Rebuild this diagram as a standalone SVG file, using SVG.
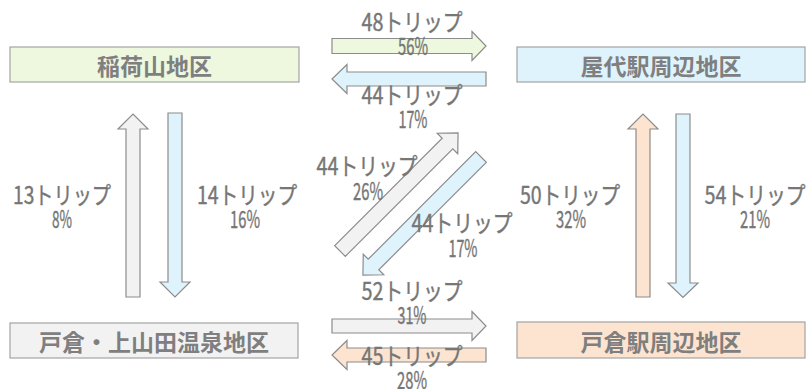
<svg xmlns="http://www.w3.org/2000/svg" width="806" height="389" viewBox="0 0 806 389">
<style>
.node{stroke:#a3a3a3;stroke-width:1.2}
.nl{font-family:"Noto Sans CJK JP","Noto Sans",sans-serif;font-size:23px;font-weight:bold;fill:#7f7f7f;text-anchor:middle}
.arr{stroke:#8c8c8c;stroke-width:1.2;stroke-linejoin:miter}
.t{font-family:"Noto Sans CJK JP","Noto Sans",sans-serif;font-size:24px;fill:#767676;stroke:#767676;stroke-width:0.4;text-anchor:middle}
.g{fill:#eef8df}.b{fill:#dff3fc}.k{fill:#f2f2f2}.p{fill:#fde4d0}
</style>
<g id="node-inariyama"><rect class="node g" x="10" y="47" width="289" height="35"/><text class="nl" x="154.5" y="75">稲荷山地区</text></g>
<g id="node-yashiro"><rect class="node b" x="517" y="47" width="288" height="35"/><text class="nl" x="661" y="75">屋代駅周辺地区</text></g>
<g id="node-togura-kamiyamada"><rect class="node k" x="10" y="323" width="288" height="35"/><text class="nl" x="154" y="351">戸倉・上山田温泉地区</text></g>
<g id="node-togura-eki"><rect class="node p" x="517" y="322" width="288" height="36"/><text class="nl" x="661" y="351">戸倉駅周辺地区</text></g>
<g id="connectors">
<path class="arr g" d="M332,38.5 H472 V31.5 L486,46 L472,60.5 V53.5 H332 Z"/>
<path class="arr b" d="M486,72 H347 V64.5 L332,79 L347,93.5 V86 H486 Z"/>
<path class="arr k" d="M332,319 H472 V311.5 L486,326 L472,340.5 V333 H332 Z"/>
<path class="arr p" d="M486,348 H347 V340.5 L332,355 L347,369.5 V362 H486 Z"/>
<path class="arr k" d="M126,297 V129 H118 L133,114 L148,129 H140 V297 Z"/>
<path class="arr b" d="M168,113 H182 V282 H190 L175,297 L160,282 H168 Z"/>
<path class="arr p" d="M636,297 V129 H628 L643,114 L658,129 H650 V297 Z"/>
<path class="arr b" d="M676,114 H690 V283 H698 L683,297.5 L668,283 H676 Z"/>
<path class="arr k" transform="translate(340,251) rotate(-45)" d="M0,-7.5 H152 V-14.5 L167,0 L152,14.5 V7.5 H0 Z"/>
<path class="arr b" transform="translate(481,157) rotate(135)" d="M0,-7.5 H152 V-14.5 L167,0 L152,14.5 V7.5 H0 Z"/>
</g>
<g id="labels">
<text class="t" x="412" y="31" textLength="101" lengthAdjust="spacingAndGlyphs">48トリップ</text>
<text class="t" x="413" y="55" textLength="30" lengthAdjust="spacingAndGlyphs">56%</text>
<text class="t" x="412" y="104" textLength="101" lengthAdjust="spacingAndGlyphs">44トリップ</text>
<text class="t" x="413" y="128" textLength="29" lengthAdjust="spacingAndGlyphs">17%</text>
<text class="t" x="62" y="204" textLength="98" lengthAdjust="spacingAndGlyphs">13トリップ</text>
<text class="t" x="62" y="228" textLength="20" lengthAdjust="spacingAndGlyphs">8%</text>
<text class="t" x="247" y="204" textLength="100" lengthAdjust="spacingAndGlyphs">14トリップ</text>
<text class="t" x="245" y="228" textLength="30" lengthAdjust="spacingAndGlyphs">16%</text>
<text class="t" x="367" y="175" textLength="101" lengthAdjust="spacingAndGlyphs">44トリップ</text>
<text class="t" x="368" y="200" textLength="30" lengthAdjust="spacingAndGlyphs">26%</text>
<text class="t" x="462" y="232" textLength="101" lengthAdjust="spacingAndGlyphs">44トリップ</text>
<text class="t" x="463" y="257" textLength="29" lengthAdjust="spacingAndGlyphs">17%</text>
<text class="t" x="570" y="204" textLength="100" lengthAdjust="spacingAndGlyphs">50トリップ</text>
<text class="t" x="571" y="228" textLength="30" lengthAdjust="spacingAndGlyphs">32%</text>
<text class="t" x="755" y="204" textLength="101" lengthAdjust="spacingAndGlyphs">54トリップ</text>
<text class="t" x="755" y="228" textLength="30" lengthAdjust="spacingAndGlyphs">21%</text>
<text class="t" x="412" y="300" textLength="101" lengthAdjust="spacingAndGlyphs">52トリップ</text>
<text class="t" x="412" y="324" textLength="29" lengthAdjust="spacingAndGlyphs">31%</text>
<text class="t" x="412" y="365" textLength="101" lengthAdjust="spacingAndGlyphs">45トリップ</text>
<text class="t" x="412" y="389" textLength="30" lengthAdjust="spacingAndGlyphs">28%</text>
</g>
</svg>
